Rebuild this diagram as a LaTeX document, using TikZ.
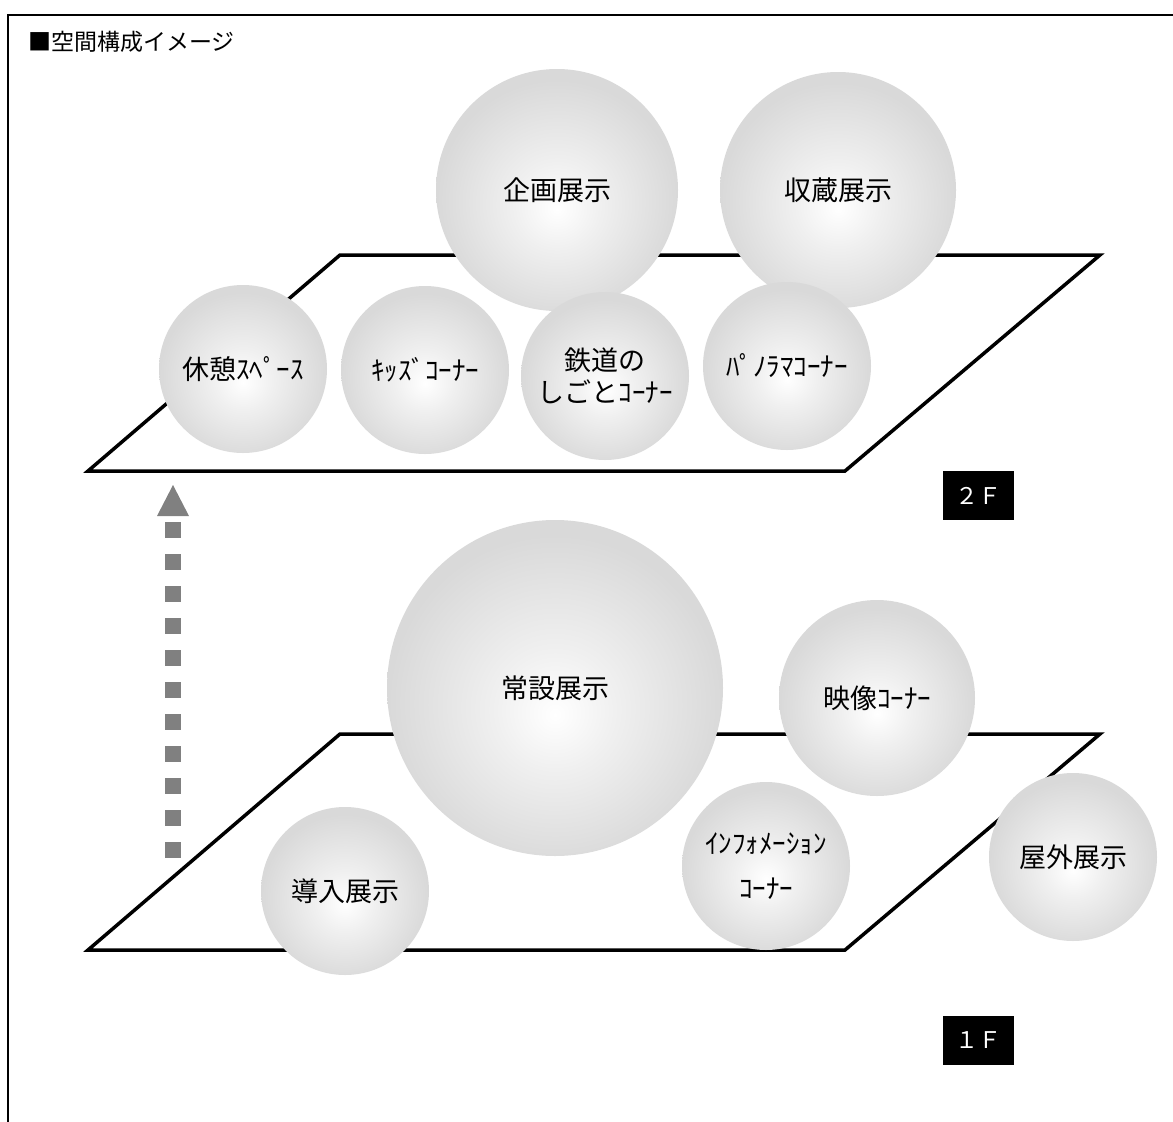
\documentclass[tikz,border=0pt]{standalone}
\usepackage{fontspec}
\setmainfont{Noto Sans CJK JP}
\pgfdeclareradialshading{ball}{\pgfpoint{0bp}{-4bp}}{color(0bp)=(white); color(9bp)=(black!6); color(25bp)=(black!15); color(50bp)=(black!15)}
\definecolor{arrowgray}{HTML}{808080}
\tikzset{
room/.style={circle, shading=ball, minimum size=168pt, inner sep=0pt, align=center, font=\fontsize{27}{32}\selectfont},
floortag/.style={fill=black, text=white, minimum width=71pt, minimum height=49pt, inner sep=0pt, font=\fontsize{23}{23}\selectfont},
floorline/.style={line width=3.5pt, line join=miter}
}
\begin{document}
\begin{tikzpicture}[x=1pt,y=-1pt]
\useasboundingbox (0,0) rectangle (1173,1122);
\draw[line width=2pt] (1173,15) -- (8,15) -- (8,1122);
\node[anchor=west, inner sep=0pt, font=\fontsize{23}{23}\selectfont] (title) at (28,42) {■空間構成イメージ};
\foreach \y in {255,734}
{
\draw[floorline] (340,\y) -- (1100,\y) -- (845,\y+216) -- (88,\y+216) -- cycle;
}
\node[room, minimum size=242pt] (kikaku) at (557,190) {企画展示};
\node[room, minimum size=236pt] (shuzo) at (838,190) {収蔵展示};
\node[room] (kyukei) at (243,369) {休憩ｽﾍﾟｰｽ};
\node[room] (kids) at (425,370) {ｷｯｽﾞｺｰﾅｰ};
\node[room] (tetsudo) at (605,376) {鉄道の\\しごとｺｰﾅｰ};
\node[room] (panorama) at (787,366) {ﾊﾟﾉﾗﾏｺｰﾅｰ};
\node[room, minimum size=336pt] (josetsu) at (555,688) {常設展示};
\node[room, minimum size=196pt] (eizo) at (877,698) {映像ｺｰﾅｰ};
\node[room, font=\fontsize{27}{45}\selectfont] (info) at (766,866) {ｲﾝﾌｫﾒｰｼｮﾝ\\ｺｰﾅｰ};
\node[room] (okugai) at (1073,857) {屋外展示};
\node[room] (donyu) at (345,891) {導入展示};
\node[floortag] (floor2) at (978.5,495.5) {２Ｆ};
\node[floortag] (floor1) at (978.5,1040) {１Ｆ};
\foreach \k in {0,...,10}
{
\fill[arrowgray] (165,522+32*\k) rectangle +(16,16);
}
\coordinate (arrowtip) at (173,485);
\fill[arrowgray] (arrowtip) -- +(16,31) -- +(-16,31) -- cycle;
\end{tikzpicture}
\end{document}
